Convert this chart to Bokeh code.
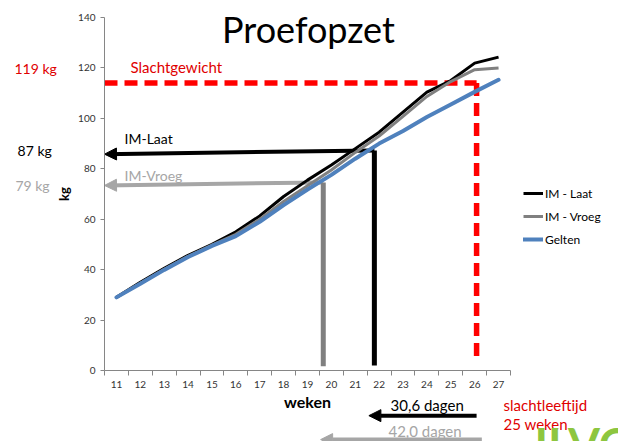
from bokeh.plotting import figure
from bokeh.models import FixedTicker, Label, Arrow, NormalHead, Legend, LegendItem, LinearAxis
from bokeh.embed import file_html
from bokeh.resources import INLINE

# ---- data -------------------------------------------------------------
weeks = list(range(11, 28))
im_laat = [29, 35, 40.5, 45.7, 50, 55, 61.3, 69, 75.5, 81.5, 88, 94.5, 102.5, 110.4, 115, 121.9, 124.3]
im_vroeg = [29, 34.6, 40.1, 45.3, 49.7, 54, 60, 67, 73.3, 79.5, 86.5, 93, 100.8, 108.7, 114.6, 119.3, 120]
gelten = [29, 34.4, 39.9, 45, 49.4, 53.3, 59, 65.6, 71.8, 77.6, 84, 90, 95, 100.5, 105.5, 110.5, 115.3]

y_ticks = [0, 20, 40, 60, 80, 100, 120, 140]

# reference lines / arrows (values in chart units)
slacht_kg = 114
slacht_week = 26.08
slacht_bottom = 3
laat_week, laat_kg, laat_kg_tip, laat_bottom = 21.8, 87.3, 85.8, 2
vroeg_week, vroeg_kg, vroeg_kg_tip, vroeg_bottom = 19.66, 74.6, 73.4, 1.7
dagen_laat_y, dagen_laat_tip = -17.9, 21.57
dagen_vroeg_y, dagen_vroeg_start, dagen_vroeg_tip = -27.4, 26.3, 19.55

FONT = "Lato"
RED = "#E00000"
LGRAY = "#A6A6A6"
GRAY = "#808080"
BLUE = "#4F81BD"

W, H = 618, 441
x_lo, x_hi = weeks[0] - 0.5, weeks[-1] + 0.5
# the plot frame covers the whole canvas; the axes sit inside at fixed positions
px_x = (510 - 104) / (x_hi - x_lo)
px_y = (370 - 17) / (y_ticks[-1] - y_ticks[0])
xr = (x_lo - 104 / px_x, x_lo + (W - 104) / px_x)
yr = (-(H - 370) / px_y, 370 / px_y)

p = figure(width=W, height=H, x_range=xr, y_range=yr,
           output_backend="svg", toolbar_location=None, title=None,
           x_axis_location=None, y_axis_location=None,
           min_border=0, min_border_left=0, min_border_right=0, min_border_top=0, min_border_bottom=0)
p.outline_line_color = None
p.grid.visible = False
p.background_fill_color = "white"
p.border_fill_color = "white"

yax = LinearAxis(fixed_location=x_lo, bounds=(y_ticks[0], y_ticks[-1]))
yax.ticker = FixedTicker(ticks=y_ticks)
yax.major_tick_out = 4
yax.major_tick_in = 0
yax.minor_tick_line_color = None
yax.major_label_standoff = 5
yax.axis_label = "kg"
yax.axis_label_standoff = 3
yax.axis_label_text_font_size = "13px"

xax = LinearAxis(fixed_location=y_ticks[0], bounds=(x_lo, x_hi))
xax.ticker = FixedTicker(ticks=weeks, minor_ticks=[w - 0.5 for w in weeks] + [x_hi])
xax.major_tick_out = 0
xax.major_tick_in = 0
xax.minor_tick_out = 5
xax.minor_tick_in = 0
xax.minor_tick_line_color = "#868686"
xax.major_label_standoff = 5
xax.axis_label = "weken"
xax.axis_label_standoff = 1
xax.axis_label_text_font_size = "16px"

for ax in (xax, yax):
    ax.axis_line_color = "#868686"
    ax.major_tick_line_color = "#868686"
    ax.major_label_text_font = FONT
    ax.major_label_text_font_size = "10px"
    ax.major_label_text_color = "#333333"
    ax.axis_label_text_font = FONT
    ax.axis_label_text_font_style = "bold"
    ax.axis_label_text_color = "black"

p.add_layout(yax, "left")
p.add_layout(xax, "below")

# red dashed reference lines
p.line([x_lo, slacht_week], [slacht_kg, slacht_kg], line_color="#FF0000", line_width=5.5, line_dash="13 7")
p.line([slacht_week, slacht_week], [slacht_kg, slacht_bottom], line_color="#FF0000", line_width=5.5, line_dash="13 7")

# verticals
p.line([vroeg_week, vroeg_week], [vroeg_kg, vroeg_bottom], line_color=GRAY, line_width=5)
p.line([laat_week, laat_week], [laat_kg, laat_bottom], line_color="black", line_width=5)

# horizontal arrows
def arrow(x0, y0, x1, y1, color, level="underlay"):
    p.add_layout(Arrow(end=NormalHead(size=12, fill_color=color, line_color=color),
                       x_start=x0, y_start=y0, x_end=x1, y_end=y1,
                       line_color=color, line_width=4, level=level))

arrow(vroeg_week, vroeg_kg, x_lo, vroeg_kg_tip, LGRAY)
arrow(laat_week, laat_kg, x_lo, laat_kg_tip, "black")

# series
r1 = p.line(weeks, im_laat, line_color="black", line_width=3)
r2 = p.line(weeks, im_vroeg, line_color=GRAY, line_width=3)
r3 = p.line(weeks, gelten, line_color=BLUE, line_width=4, line_cap="round")

legend = Legend(items=[LegendItem(label="IM - Laat", renderers=[r1]),
                       LegendItem(label="IM - Vroeg", renderers=[r2]),
                       LegendItem(label="Gelten", renderers=[r3])],
                location=(523, H - 249), padding=0, margin=0, spacing=3,
                glyph_width=20, glyph_height=20, label_height=20, label_standoff=2,
                label_text_font=FONT, label_text_font_size="12px", label_text_color="black",
                background_fill_alpha=0, border_line_alpha=0)
p.add_layout(legend)

# bottom arrows
arrow(slacht_week, dagen_laat_y, dagen_laat_tip, dagen_laat_y, "black", level="annotation")
arrow(dagen_vroeg_start, dagen_vroeg_y, dagen_vroeg_tip, dagen_vroeg_y, LGRAY, level="annotation")

def lab(x, y, text, color="black", size="14px", align="left", baseline="middle", style="normal"):
    p.add_layout(Label(x=x, y=y, text=text, text_color=color, text_font=FONT, text_font_size=size,
                       text_align=align, text_baseline=baseline, text_font_style=style))

lab(19.04, 135.3, "Proefopzet", size="36px", align="center")
lab(6.73, 119.8, "119 kg", color=RED)
lab(11.59, 120.2, "Slachtgewicht", color=RED, size="15px")
lab(6.86, 87.3, "87 kg")
lab(6.77, 73.4, "79 kg", color=LGRAY)
lab(11.34, 92.0, "IM-Laat")
lab(11.34, 77.4, "IM-Vroeg", color=LGRAY)
lab(22.48, -13.5, "30,6 dagen", size="15px")
lab(22.39, -23.8, "42,0 dagen", color=LGRAY, size="15px")
lab(27.21, -13.5, "slachtleeftijd", color=RED, size="15px")
lab(27.21, -21.4, "25 weken", color=RED, size="15px")
lab(28.5, -18.2, "ILVO", color="#8DC63F", size="46px", baseline="top", style="bold")

open("out.html", "w").write(file_html(p, INLINE))
